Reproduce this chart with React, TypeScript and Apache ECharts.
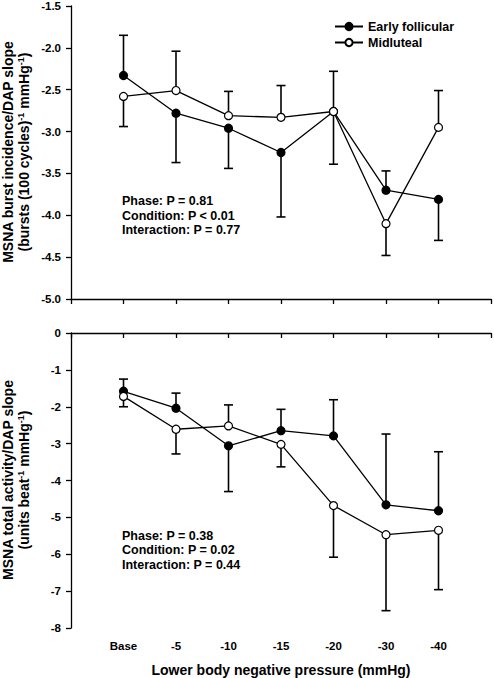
import React, { useEffect, useRef } from "react";
import * as echarts from "echarts";

const categories = ["Base", "-5", "-10", "-15", "-20", "-30", "-40"];

const burstEF = [-2.33, -2.78, -2.96, -3.25, -2.76, -3.7, -3.81];
const burstEFErr = [0.48, 0.59, 0.48, 0.77, 0.63, 0.23, 0.49];
const burstEFDir = [1, -1, -1, -1, -1, 1, -1];
const burstML = [-2.58, -2.51, -2.81, -2.83, -2.76, -4.1, -2.95];
const burstMLErr = [0.36, 0.47, 0.29, 0.38, 0.48, 0.38, 0.44];
const burstMLDir = [-1, 1, 1, 1, 1, -1, 1];

const totalEF = [-1.58, -2.04, -3.06, -2.65, -2.79, -4.66, -4.82];
const totalEFErr = [0.33, 0.41, 1.24, 0.58, 0.98, 1.92, 1.6];
const totalEFDir = [1, 1, -1, 1, 1, 1, 1];
const totalML = [-1.72, -2.61, -2.52, -3.02, -4.68, -5.47, -5.35];
const totalMLErr = [0.28, 0.67, 0.57, 0.61, 1.4, 2.06, 1.61];
const totalMLDir = [-1, -1, 1, -1, -1, -1, -1];

const topStats = ["Phase: P = 0.81", "Condition: P < 0.01", "Interaction: P = 0.77"];
const bottomStats = ["Phase: P = 0.38", "Condition: P = 0.02", "Interaction: P = 0.44"];

const FONT = '"Liberation Sans", Arial, sans-serif';

export default function App() {
  const ref = useRef<HTMLDivElement>(null);
  useEffect(() => {
    if (!ref.current) return;
    const chart = echarts.init(ref.current, null, { renderer: "svg" });

    const pts = (vals: number[]) => vals.map((v, i) => [i + 1, v]);
    const errPts = (vals: number[], err: number[], dir: number[]) =>
      vals.map((v, i) => [i + 1, v, err[i] * dir[i]]);

    const errSeries = (data: number[][], idx: number) => ({
      type: "custom",
      xAxisIndex: idx,
      yAxisIndex: idx,
      z: 1,
      silent: true,
      clip: false,
      data,
      renderItem: (params: any, api: any) => {
        const x = api.value(0);
        const y = api.value(1);
        const e = api.value(2);
        const p0 = api.coord([x, y]);
        const p1 = api.coord([x, y + e]);
        const st = { stroke: "#000", lineWidth: 1.6 };
        return {
          type: "group",
          children: [
            { type: "line", shape: { x1: p0[0], y1: p0[1], x2: p1[0], y2: p1[1] }, style: st },
            { type: "line", shape: { x1: p1[0] - 4.5, y1: p1[1], x2: p1[0] + 4.5, y2: p1[1] }, style: st },
          ],
        };
      },
    });

    const lineSeries = (name: string, data: number[][], idx: number, filled: boolean) => ({
      type: "line",
      name,
      xAxisIndex: idx,
      yAxisIndex: idx,
      data,
      z: filled ? 3 : 4,
      symbol: "circle",
      symbolSize: 8,
      showSymbol: true,
      lineStyle: { color: "#000", width: 1.3 },
      itemStyle: { color: filled ? "#000" : "#fff", borderColor: "#000", borderWidth: 1.2 },
      emphasis: { disabled: true },
    });

    const xAxis = (idx: number, showLabels: boolean) => ({
      type: "value",
      gridIndex: idx,
      min: 0,
      max: 8,
      interval: 1,
      splitLine: { show: false },
      axisLine: { lineStyle: { color: "#000", width: 1.3 } },
      axisTick: { show: true, length: 5, lineStyle: { color: "#000", width: 1.3 } },
      axisLabel: {
        show: showLabels,
        margin: 12,
        color: "#000",
        fontFamily: FONT,
        fontWeight: "bold",
        fontSize: 11.5,
        formatter: (v: number) => categories[v - 1] ?? "",
      },
    });

    const yAxis = (idx: number, min: number, max: number, interval: number, digits: number) => ({
      type: "value",
      gridIndex: idx,
      min,
      max,
      interval,
      splitLine: { show: false },
      axisLine: { show: true, lineStyle: { color: "#000", width: 1.3 } },
      axisTick: { show: true, length: 5, lineStyle: { color: "#000", width: 1.3 } },
      axisLabel: {
        margin: 10,
        color: "#000",
        fontFamily: FONT,
        fontWeight: "bold",
        fontSize: 11.5,
        formatter: (v: number) => v.toFixed(digits),
      },
    });

    const sup = { fontSize: 9, fontWeight: "bold", fontFamily: FONT, fill: "#000", verticalAlign: "top", lineHeight: 16 };
    const titleStyle = (text: string) => ({
      text,
      fill: "#000",
      fontFamily: FONT,
      fontWeight: "bold",
      fontSize: 14,
      lineHeight: 16,
      align: "center",
      verticalAlign: "middle",
      rich: { sup },
    });

    const statsText = (lines: string[], top: number) => ({
      type: "text",
      left: 122,
      top,
      style: {
        text: lines.join("\n"),
        fill: "#000",
        fontFamily: FONT,
        fontWeight: "bold",
        fontSize: 12.5,
        lineHeight: 14.5,
      },
    });

    chart.setOption({
      animation: false,
      backgroundColor: "#fff",
      textStyle: { fontFamily: FONT },
      grid: [
        { left: 71, right: 3, top: 5, height: 294 },
        { left: 71, right: 3, top: 333, height: 295 },
      ],
      xAxis: [xAxis(0, false), xAxis(1, true)],
      yAxis: [yAxis(0, -5, -1.5, 0.5, 1), yAxis(1, -8, 0, 1, 0)],
      legend: {
        left: 329,
        top: 15,
        orient: "vertical",
        itemWidth: 28,
        itemHeight: 9,
        itemGap: 3,
        textStyle: { color: "#000", fontFamily: FONT, fontWeight: "bold", fontSize: 12.5 },
        data: ["Early follicular", "Midluteal"],
        selectedMode: false,
      },
      graphic: [
        {
          type: "text",
          x: 8,
          y: 152,
          rotation: Math.PI / 2,
          style: titleStyle("MSNA burst incidence/DAP slope"),
        },
        {
          type: "text",
          x: 24,
          y: 152,
          rotation: Math.PI / 2,
          style: titleStyle("(bursts (100 cycles){sup|-1} mmHg{sup|-1})"),
        },
        {
          type: "text",
          x: 8,
          y: 480,
          rotation: Math.PI / 2,
          style: titleStyle("MSNA total activity/DAP slope"),
        },
        {
          type: "text",
          x: 24,
          y: 480,
          rotation: Math.PI / 2,
          style: titleStyle("(units beat{sup|-1} mmHg{sup|-1})"),
        },
        {
          type: "text",
          x: 281,
          y: 670,
          style: {
            text: "Lower body negative pressure (mmHg)",
            fill: "#000",
            fontFamily: FONT,
            fontWeight: "bold",
            fontSize: 14,
            align: "center",
            verticalAlign: "middle",
          },
        },
        statsText(topStats, 194),
        statsText(bottomStats, 528.5),
      ],
      series: [
        errSeries(errPts(burstEF, burstEFErr, burstEFDir), 0),
        errSeries(errPts(burstML, burstMLErr, burstMLDir), 0),
        errSeries(errPts(totalEF, totalEFErr, totalEFDir), 1),
        errSeries(errPts(totalML, totalMLErr, totalMLDir), 1),
        lineSeries("Early follicular", pts(burstEF), 0, true),
        lineSeries("Midluteal", pts(burstML), 0, false),
        lineSeries("Early follicular", pts(totalEF), 1, true),
        lineSeries("Midluteal", pts(totalML), 1, false),
      ],
    });
    return () => chart.dispose();
  }, []);
  return (
    <div
      ref={ref}
      style={{ position: "fixed", left: 0, top: 0, width: 494, height: 678, background: "#fff" }}
    />
  );
}
